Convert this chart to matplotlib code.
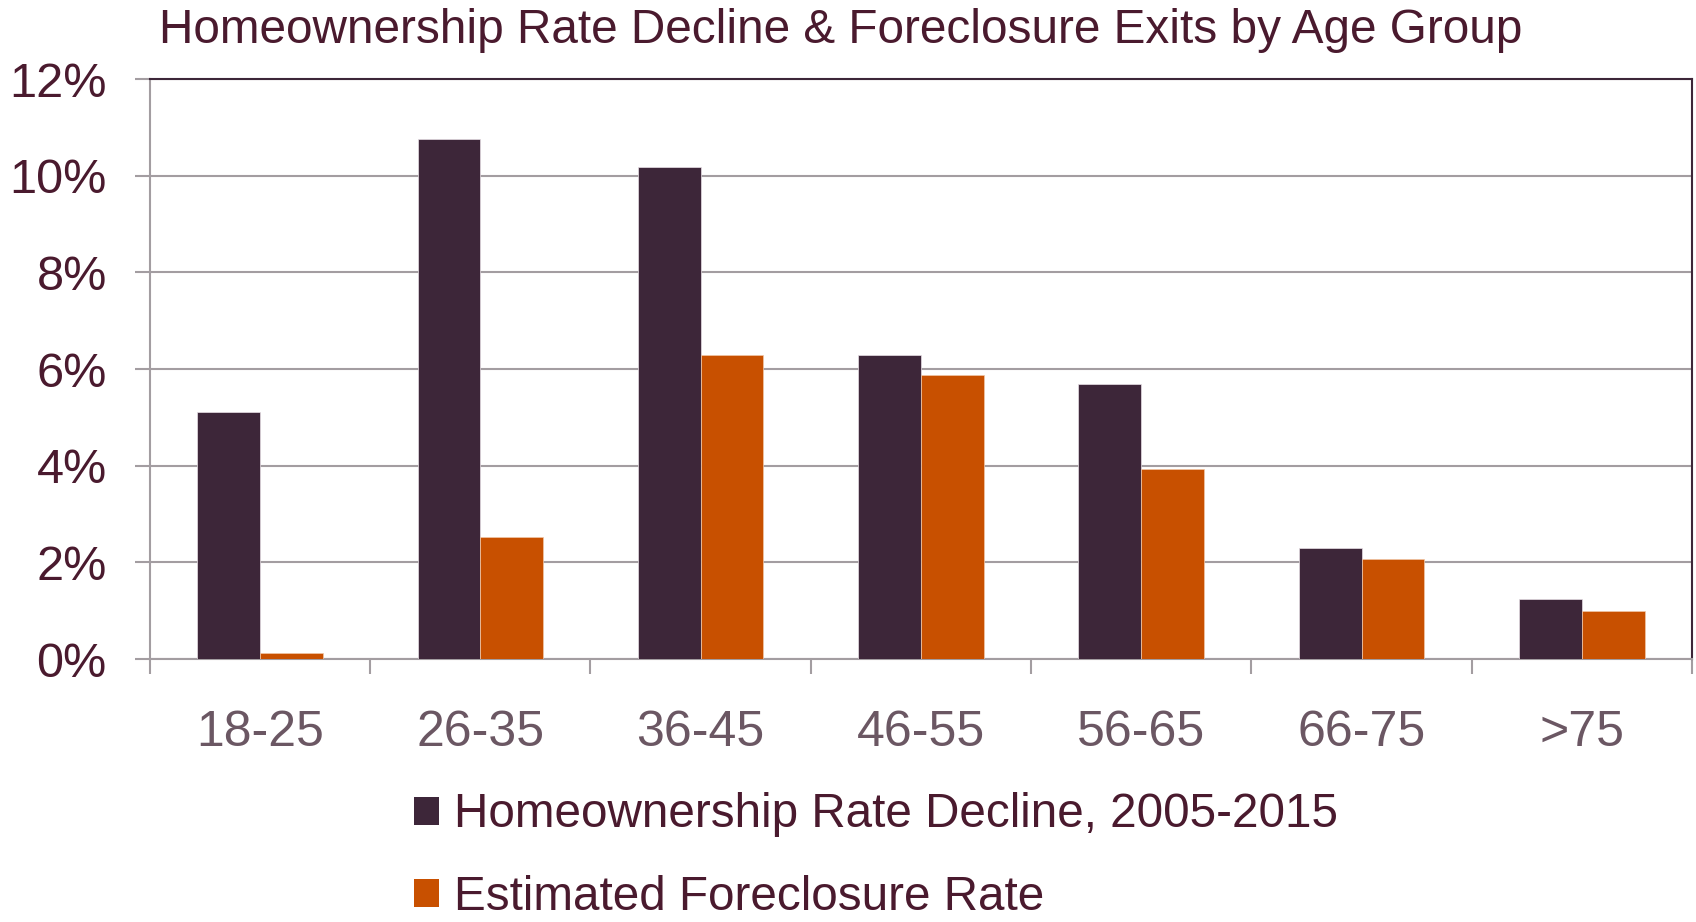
import numpy as np
import matplotlib.pyplot as plt

plt.rcParams['font.family'] = ['Liberation Sans', 'DejaVu Sans']

age_groups = ['18-25', '26-35', '36-45', '46-55', '56-65', '66-75', '>75']
homeownership_decline = [5.12, 10.75, 10.17, 6.30, 5.68, 2.30, 1.24]
foreclosure_rate = [0.13, 2.52, 6.30, 5.88, 3.93, 2.08, 0.99]

dark = '#3d2639'
orange = '#c85000'
grid_grey = '#a39da1'
text_dark = '#4a1a2e'
text_grey = '#6b5763'

fig = plt.figure(figsize=(16.96, 9.22), dpi=100)
ax = fig.add_axes([0.0884, 0.2852, 0.9092, 0.6291])

x = np.arange(len(age_groups))
w = 0.285
ax.bar(x - w / 2, homeownership_decline, w, color=dark, edgecolor='#e8e0e6', linewidth=0.5,
       label='Homeownership Rate Decline, 2005-2015', zorder=3)
ax.bar(x + w / 2, foreclosure_rate, w, color=orange, edgecolor='#f0c8a8', linewidth=0.5,
       label='Estimated Foreclosure Rate', zorder=3)

ax.set_xlim(-0.5, len(age_groups) - 0.5)
ax.set_ylim(0, 12)
ax.set_yticks(range(0, 13, 2))
ax.set_yticklabels([f'{v}%' for v in range(0, 13, 2)], fontsize=35, color=text_dark)
ax.set_xticks(x)
ax.set_xticklabels(age_groups, fontsize=36, color=text_grey)
ax.set_xticks(np.arange(-0.5, len(age_groups)), minor=True)
ax.tick_params(axis='x', which='major', length=0, pad=37)
ax.tick_params(axis='x', which='minor', length=11, width=1.5, color=grid_grey, direction='out')
ax.tick_params(axis='y', length=11, width=1.5, color=grid_grey, pad=20)

ax.yaxis.grid(True, color=grid_grey, linewidth=1.5, zorder=0)
ax.set_axisbelow(True)
for side in ['left', 'bottom']:
    ax.spines[side].set_color(grid_grey)
    ax.spines[side].set_linewidth(1.5)
for side in ['top', 'right']:
    ax.spines[side].set_color(dark)
    ax.spines[side].set_linewidth(1.5)

fig.text(0.0937, 0.953, 'Homeownership Rate Decline & Foreclosure Exits by Age Group',
         fontsize=34.4, color=text_dark, va='baseline', ha='left')

leg = fig.legend(loc='upper left', bbox_to_anchor=(0.2441, 0.1405), frameon=False,
                 fontsize=34.3, handlelength=0.53, handleheight=0.53, handletextpad=0.3,
                 labelspacing=0.78, borderpad=0, borderaxespad=0)
for t in leg.get_texts():
    t.set_color(text_dark)
for h in leg.legend_handles:
    h.set_linewidth(0)

fig.savefig('out.png', dpi=100)
